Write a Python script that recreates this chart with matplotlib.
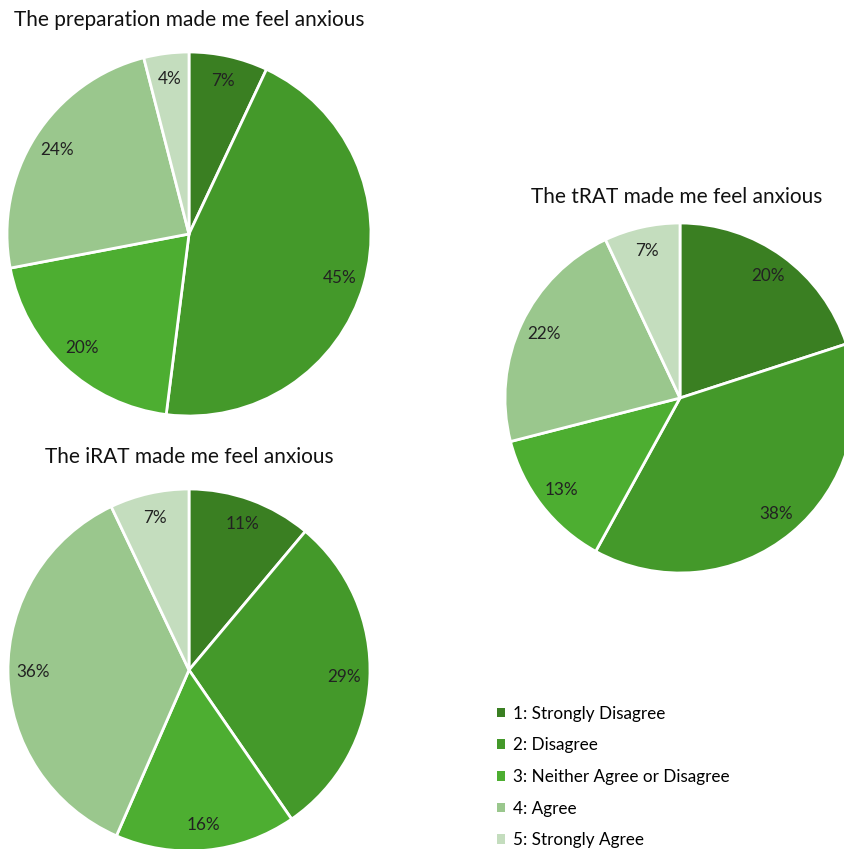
import matplotlib.pyplot as plt
from matplotlib.patches import Patch

plt.rcParams['font.family'] = ['Lato', 'DejaVu Sans']

categorias = ['1: Strongly Disagree', '2: Disagree', '3: Neither Agree or Disagree',
              '4: Agree', '5: Strongly Agree']
colores = ['#3A7F22', '#44992A', '#4DAE31', '#9AC78D', '#C4DDBE']

prep = [7, 45, 20, 24, 4]
trat = [20, 38, 13, 22, 7]
irat = [11, 29, 16, 36, 7]

W, H = 845, 849
fig = plt.figure(figsize=(W / 100, H / 100), dpi=100)


def pastel(valores, cx, cy, r, titulo, tx, ty):
    # ejes cuadrados en pixeles, centrados en (cx, cy)
    ax = fig.add_axes([(cx - r) / W, (H - cy - r) / H, 2 * r / W, 2 * r / H])
    ax.pie(valores, colors=colores, startangle=90, counterclock=False,
           labels=[f'{v}%' for v in valores], labeldistance=0.86,
           textprops=dict(fontsize=12.3, color='#222222', ha='center', va='center'),
           wedgeprops=dict(edgecolor='white', linewidth=2), radius=1)
    ax.set_xlim(-1, 1)
    ax.set_ylim(-1, 1)
    ax.set_aspect('equal')
    ax.axis('off')
    fig.text(tx / W, 1 - ty / H, titulo, ha='center', va='center', fontsize=15,
             color='#111111')


pastel(prep, 189, 234, 182, 'The preparation made me feel anxious', 189, 20)
pastel(trat, 680, 398, 175, 'The tRAT made me feel anxious', 677, 197)
pastel(irat, 189, 670, 181, 'The iRAT made me feel anxious', 189, 457)

handles = [Patch(facecolor=c, edgecolor='none') for c in colores]
fig.legend(handles, categorias, loc='upper left', bbox_to_anchor=(488 / W, 1 - 697 / H),
           frameon=False, fontsize=12.3, handlelength=0.5, handleheight=0.5,
           handletextpad=0.45, labelspacing=0.92, borderpad=0)

fig.savefig('out.png', dpi=100)
plt.close()
